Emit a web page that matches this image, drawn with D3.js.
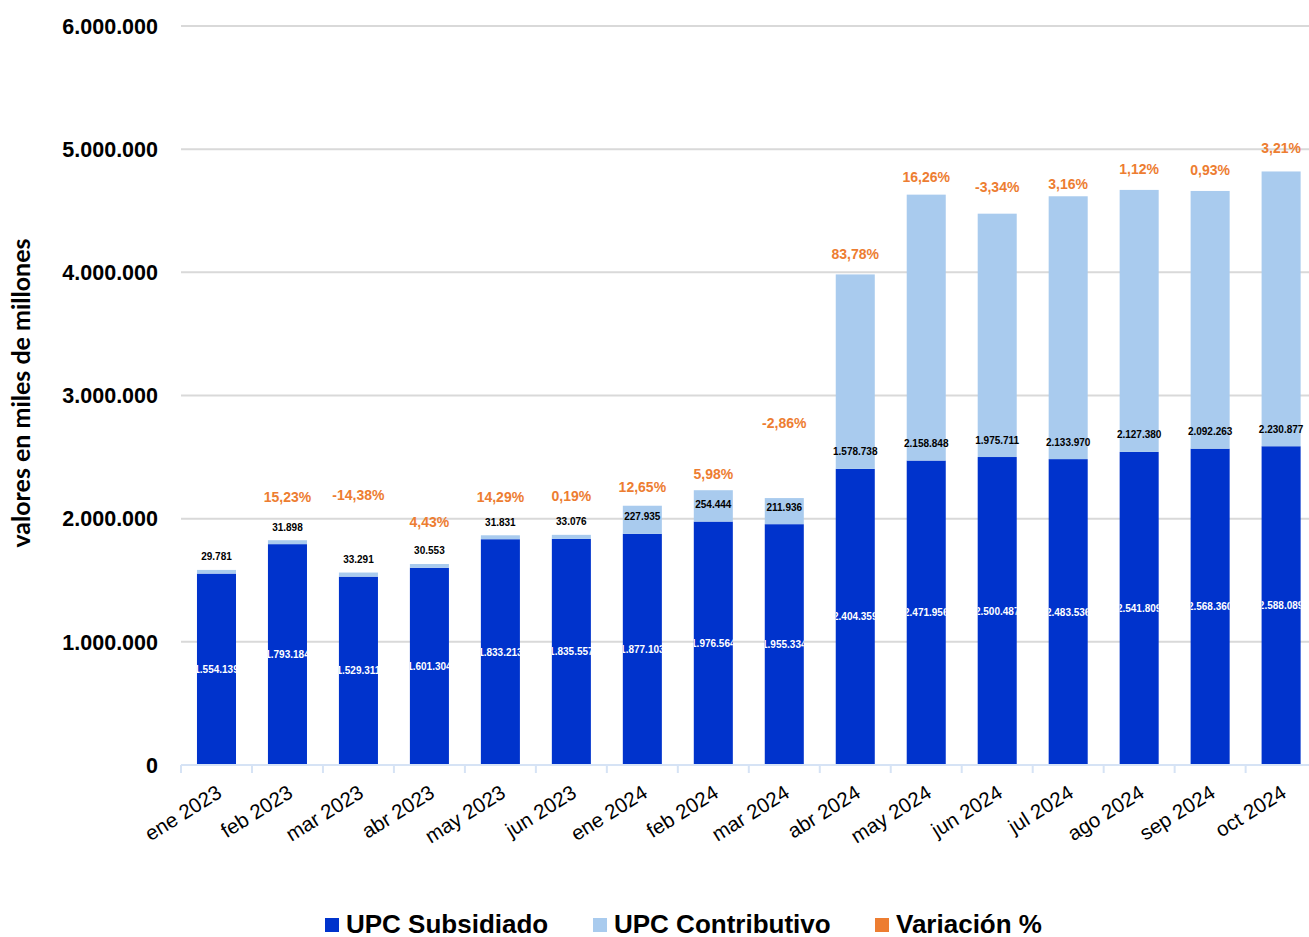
<!DOCTYPE html>
<html>
<head>
<meta charset="utf-8">
<script src="https://cdn.jsdelivr.net/npm/d3@7"></script>
<style>
  html, body { margin: 0; padding: 0; background: #fff; }
  svg { display: block; font-family: "Liberation Sans", Arial, sans-serif; }
</style>
</head>
<body>
<svg id="chart" width="1309" height="937"></svg>
<script>
// ---- data ----
const categories = ["ene 2023","feb 2023","mar 2023","abr 2023","may 2023","jun 2023","ene 2024","feb 2024","mar 2024","abr 2024","may 2024","jun 2024","jul 2024","ago 2024","sep 2024","oct 2024"];
const subsidiado = [1554139,1793184,1529311,1601304,1833213,1835557,1877103,1976564,1955334,2404359,2471956,2500487,2483536,2541809,2568360,2588089];
const contributivo = [29781,31898,33291,30553,31831,33076,227935,254444,211936,1578738,2158848,1975711,2133970,2127380,2092263,2230877];
const variacion = [null,"15,23%","-14,38%","4,43%","14,29%","0,19%","12,65%","5,98%","-2,86%","83,78%","16,26%","-3,34%","3,16%","1,12%","0,93%","3,21%"];
// level (in chart units) at which each variation label sits
const variacionNivel = [null,2175000,2192000,1972000,2175000,2183000,2256000,2362000,2776000,4148000,4773000,4692000,4718000,4838000,4829000,5008000];
const yTicks = [0,1000000,2000000,3000000,4000000,5000000,6000000];
const legendItems = ["UPC Subsidiado","UPC Contributivo","Variación %"];

// ---- style ----
const C_SUB = "#0033CC", C_CON = "#A9CBEE", C_VAR = "#ED7D31";
const svg = d3.select("#chart");
const fmt = d3.formatLocale({decimal: ",", thousands: ".", grouping: [3], currency: ["", ""]}).format(",d");

const x = d3.scaleBand().domain(categories).range([181, 1316.6]).paddingInner(0.45).paddingOuter(0.225);
const y = d3.scaleLinear().domain([0, 6000000]).range([765, 26]);

// gridlines
svg.append("g").selectAll("line").data(yTicks.filter(d => d > 0)).join("line")
  .attr("x1", 181).attr("x2", 1309)
  .attr("y1", d => y(d)).attr("y2", d => y(d))
  .attr("stroke", "#d9d9d9").attr("stroke-width", 2);

// y tick labels
svg.append("g").selectAll("text").data(yTicks).join("text")
  .attr("x", 158).attr("y", d => y(d)).attr("dy", "0.36em")
  .attr("text-anchor", "end").attr("font-size", 21.5).attr("font-weight", "bold").attr("fill", "#000")
  .text(d => fmt(d));

// y axis title
svg.append("text")
  .attr("transform", "translate(30,393) rotate(-90)")
  .attr("text-anchor", "middle").attr("font-family", "Lato, 'Liberation Sans', sans-serif")
  .attr("font-size", 25).attr("font-weight", "bold").attr("fill", "#000")
  .text("valores en miles de millones");

const rows = categories.map((c, i) => ({c, i, s: subsidiado[i], k: contributivo[i], v: variacion[i], lv: variacionNivel[i]}));

// clip paths for sub labels
const defs = svg.append("defs");
defs.selectAll("clipPath").data(rows).join("clipPath")
  .attr("id", d => "clip" + d.i)
  .append("rect")
  .attr("x", d => x(d.c)).attr("width", x.bandwidth())
  .attr("y", d => y(d.s)).attr("height", d => y(0) - y(d.s));

// bars
const g = svg.append("g");
g.selectAll("rect.sub").data(rows).join("rect").attr("class", "sub")
  .attr("x", d => x(d.c)).attr("width", x.bandwidth())
  .attr("y", d => y(d.s)).attr("height", d => y(0) - y(d.s))
  .attr("fill", C_SUB);
g.selectAll("rect.con").data(rows).join("rect").attr("class", "con")
  .attr("x", d => x(d.c)).attr("width", x.bandwidth())
  .attr("y", d => y(d.s + d.k)).attr("height", d => y(d.s) - y(d.s + d.k))
  .attr("fill", C_CON);

// x axis line + ticks
const axisColor = "#d6e3f5";
svg.append("line").attr("x1", 181).attr("x2", 1309).attr("y1", 765).attr("y2", 765)
  .attr("stroke", axisColor).attr("stroke-width", 2);
const bounds = categories.map(c => x(c) - x.step() * x.paddingInner() / 2);
svg.append("g").selectAll("line").data(bounds).join("line")
  .attr("x1", d => d).attr("x2", d => d).attr("y1", 765).attr("y2", 773)
  .attr("stroke", axisColor).attr("stroke-width", 2);

// x labels
svg.append("g").selectAll("text").data(categories).join("text")
  .attr("transform", c => `translate(${x(c) + x.bandwidth() / 2 - 1},${784}) rotate(-32)`)
  .attr("text-anchor", "end").attr("dy", "0.7em")
  .attr("font-size", 20.5).attr("fill", "#000")
  .text(c => c);

// subsidiado labels (white, clipped to bar)
g.selectAll("text.sl").data(rows).join("text").attr("class", "sl")
  .attr("clip-path", d => `url(#clip${d.i})`)
  .attr("x", d => x(d.c) + x.bandwidth() / 2).attr("y", d => (y(d.s) + y(0)) / 2).attr("dy", "0.35em")
  .attr("text-anchor", "middle").attr("font-size", 10).attr("font-weight", "bold").attr("fill", "#fff")
  .text(d => fmt(d.s));

// contributivo labels
g.selectAll("text.cl").data(rows).join("text").attr("class", "cl")
  .attr("x", d => x(d.c) + x.bandwidth() / 2).attr("y", d => y(d.s) - 17).attr("dy", "0.35em")
  .attr("text-anchor", "middle").attr("font-size", 10).attr("font-weight", "bold").attr("fill", "#000")
  .text(d => fmt(d.k));

// variation labels
g.selectAll("text.vl").data(rows.filter(d => d.v)).join("text").attr("class", "vl")
  .attr("x", d => x(d.c) + x.bandwidth() / 2).attr("y", d => y(d.lv)).attr("dy", "0.35em")
  .attr("text-anchor", "middle").attr("font-size", 14).attr("font-weight", "bold").attr("fill", C_VAR)
  .text(d => d.v);

// legend
const legX = [325, 593, 875];
const legC = [C_SUB, C_CON, C_VAR];
const leg = svg.append("g").selectAll("g").data(legendItems).join("g")
  .attr("transform", (d, i) => `translate(${legX[i]},918)`);
leg.append("rect").attr("width", 14).attr("height", 14).attr("fill", (d, i) => legC[i]);
leg.append("text").attr("x", 21).attr("y", 14.5)
  .attr("font-size", 26).attr("font-weight", "bold").attr("fill", "#000")
  .text(d => d);
</script>
</body>
</html>
